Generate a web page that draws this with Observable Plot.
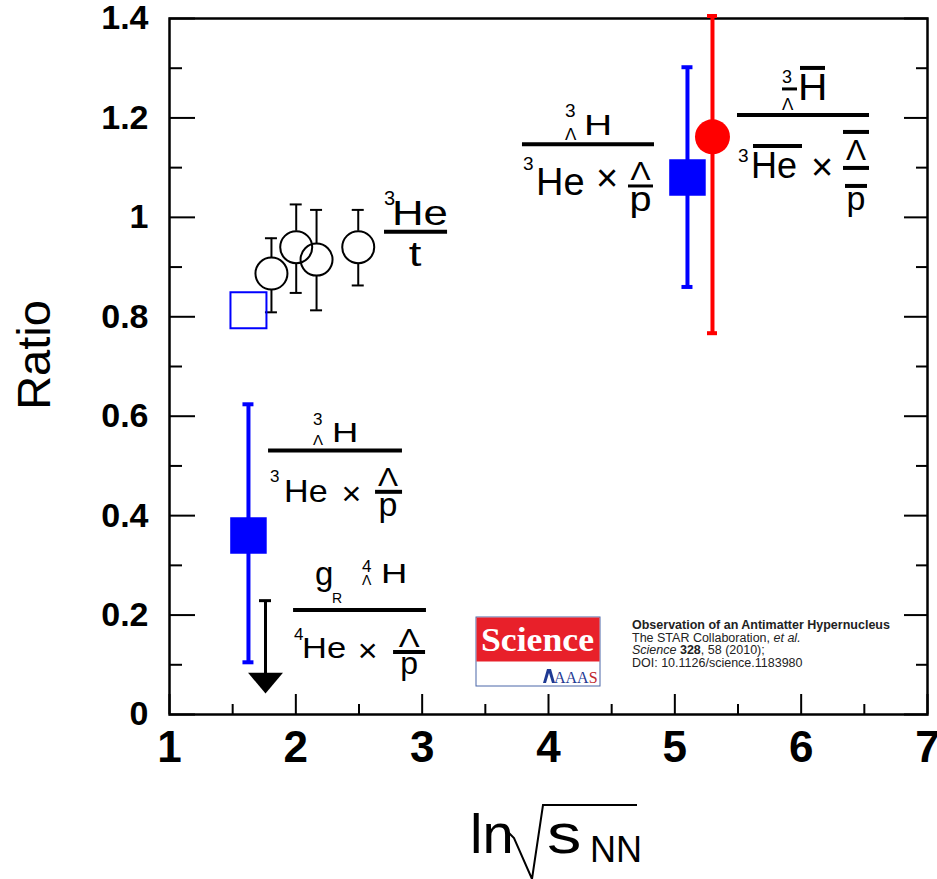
<!DOCTYPE html>
<html>
<head>
<meta charset="utf-8">
<script src="https://cdn.jsdelivr.net/npm/d3@7"></script>
<script src="https://cdn.jsdelivr.net/npm/@observablehq/plot@0.6"></script>
<style>
  body { margin: 0; background: #fff; }
  #chart svg { display: block; }
</style>
</head>
<body>
<div id="chart"></div>
<script>
// ---------- data ----------
const xMajor = [1, 2, 3, 4, 5, 6, 7];
const xMinor = [1.5, 2.5, 3.5, 4.5, 5.5, 6.5];
const yMajor = [0, 0.2, 0.4, 0.6, 0.8, 1.0, 1.2, 1.4];
const yMinor = [0.1, 0.3, 0.5, 0.7, 0.9, 1.1, 1.3];
const yTickLabels = ["0", "0.2", "0.4", "0.6", "0.8", "1", "1.2", "1.4"];

// 3He / t ratio (open black circles)
const he3tX  = [1.807, 2.003, 2.164, 2.494];
const he3tY  = [0.887, 0.940, 0.915, 0.940];
const he3tLo = [0.809, 0.848, 0.813, 0.863];
const he3tHi = [0.958, 1.026, 1.015, 1.015];

// open blue square
const openSqX = [1.625];
const openSqY = [0.813];

// hypertriton ratio (filled blue squares)
const hyperX  = [1.625, 5.100];
const hyperY  = [0.360, 1.080];
const hyperLo = [0.105, 0.860];
const hyperHi = [0.624, 1.302];

// antihypertriton ratio (red circle)
const antiX  = [5.298];
const antiY  = [1.162];
const antiLo = [0.767];
const antiHi = [1.405];

// upper limit (black arrow)
const limX   = [1.760];
const limTop = [0.229];
const limTip = [0.042];

// fraction-label anchors (bar left x, bar right x, bar y) in data units
const labelBarX1 = [2.702, 3.794, 5.496, 1.784, 1.982];
const labelBarX2 = [3.201, 4.839, 6.541, 2.844, 3.034];
const labelBarY  = [0.970, 1.146, 1.205, 0.530, 0.209];

// ---------- tables ----------
const he3t = he3tX.map((x, i) => ({x, y: he3tY[i], lo: he3tLo[i], hi: he3tHi[i]}));
const openSq = openSqX.map((x, i) => ({x, y: openSqY[i]}));
const hyper = hyperX.map((x, i) => ({x, y: hyperY[i], lo: hyperLo[i], hi: hyperHi[i]}));
const anti = antiX.map((x, i) => ({x, y: antiY[i], lo: antiLo[i], hi: antiHi[i]}));
const lim = limX.map((x, i) => ({x, top: limTop[i], tip: limTip[i]}));

const FONT = "'Liberation Sans', Arial, Helvetica, sans-serif";
const BLUE = "#0000ff", RED = "#ff0000";

const arrowHead = {
  draw(ctx, size) {
    const w = Math.sqrt(size);
    const h = w * 0.6;
    ctx.moveTo(-w / 2, -h);
    ctx.lineTo(w / 2, -h);
    ctx.lineTo(0, 0);
    ctx.closePath();
  }
};

const plot = Plot.plot({
  width: 937,
  height: 879,
  marginLeft: 169,
  marginRight: 10,
  marginTop: 18,
  marginBottom: 165,
  x: {domain: [1, 7]},
  y: {domain: [0, 1.4]},
  style: {fontFamily: FONT, background: "#fff", overflow: "visible", color: "black"},
  marks: [
    // axis ticks (inward)
    Plot.axisY({anchor: "left", ticks: yMajor, tickSize: -26, tickFormat: () => "", label: null, strokeWidth: 2}),
    Plot.axisY({anchor: "left", ticks: yMinor, tickSize: -13, tickFormat: () => "", label: null, strokeWidth: 2}),
    Plot.axisY({anchor: "right", ticks: yMajor, tickSize: -24, tickFormat: () => "", label: null, strokeWidth: 2}),
    Plot.axisY({anchor: "right", ticks: yMinor, tickSize: -12, tickFormat: () => "", label: null, strokeWidth: 2}),
    Plot.axisX({anchor: "bottom", ticks: xMajor, tickSize: -20, tickFormat: () => "", label: null, strokeWidth: 2}),
    Plot.axisX({anchor: "bottom", ticks: xMinor, tickSize: -10, tickFormat: () => "", label: null, strokeWidth: 2}),
    // tick labels
    Plot.axisY({anchor: "left", ticks: yMajor, tickSize: 0, tickPadding: 21, label: null,
      tickFormat: (d, i) => yTickLabels[i], fontSize: 34, fontWeight: "bold"}),
    Plot.axisX({anchor: "bottom", ticks: xMajor, tickSize: 0, tickPadding: 16, label: null,
      tickFormat: d => String(d), fontSize: 44, fontWeight: "bold"}),
    Plot.frame({stroke: "black", strokeWidth: 2.5}),

    // 3He/t error bars (outside the circles)
    Plot.ruleX(he3t, {x: "x", y1: "hi", y2: "y", insetBottom: 16, stroke: "black", strokeWidth: 2}),
    Plot.ruleX(he3t, {x: "x", y1: "y", y2: "lo", insetTop: 16, stroke: "black", strokeWidth: 2}),
    Plot.ruleY(he3t, {y: "hi", x1: "x", x2: "x", insetLeft: -6, insetRight: -6, stroke: "black", strokeWidth: 2}),
    Plot.ruleY(he3t, {y: "lo", x1: "x", x2: "x", insetLeft: -6, insetRight: -6, stroke: "black", strokeWidth: 2}),
    Plot.dot(he3t, {x: "x", y: "y", r: 16, stroke: "black", strokeWidth: 2, fill: "none"}),

    // open blue square
    Plot.dot(openSq, {x: "x", y: "y", symbol: "square", r: 20.3, stroke: BLUE, strokeWidth: 2, fill: "none"}),

    // hypertriton
    Plot.ruleX(hyper, {x: "x", y1: "lo", y2: "hi", stroke: BLUE, strokeWidth: 4}),
    Plot.ruleY(hyper, {y: "hi", x1: "x", x2: "x", insetLeft: -5.5, insetRight: -5.5, stroke: BLUE, strokeWidth: 4}),
    Plot.ruleY(hyper, {y: "lo", x1: "x", x2: "x", insetLeft: -5.5, insetRight: -5.5, stroke: BLUE, strokeWidth: 4}),
    Plot.dot(hyper, {x: "x", y: "y", symbol: "square", r: 20.6, fill: BLUE, stroke: "none"}),

    // antihypertriton
    Plot.ruleX(anti, {x: "x", y1: "lo", y2: "hi", stroke: RED, strokeWidth: 4}),
    Plot.ruleY(anti, {y: "hi", x1: "x", x2: "x", insetLeft: -5, insetRight: -5, stroke: RED, strokeWidth: 4}),
    Plot.ruleY(anti, {y: "lo", x1: "x", x2: "x", insetLeft: -5, insetRight: -5, stroke: RED, strokeWidth: 4}),
    Plot.dot(anti, {x: "x", y: "y", r: 17.5, fill: RED, stroke: "none"}),

    // upper limit arrow
    Plot.ruleX(lim, {x: "x", y1: "top", y2: "tip", insetBottom: 18, stroke: "black", strokeWidth: 3}),
    Plot.ruleY(lim, {y: "top", x1: "x", x2: "x", insetLeft: -6, insetRight: -6, stroke: "black", strokeWidth: 3}),
    Plot.dot(lim, {x: "x", y: "tip", symbol: arrowHead, r: 19.7, fill: "black", stroke: "none"})
  ]
});

document.getElementById("chart").appendChild(plot);

// ---------- annotations ----------
const svg = d3.select(plot);
const sx = plot.scale("x"), sy = plot.scale("y");

function T(g, bx, by, [dx, dy, str, size, scx = 1, anchor = "start"]) {
  g.append("text")
    .attr("transform", `translate(${bx + dx},${by + dy}) scale(${scx},1)`)
    .attr("font-size", size)
    .attr("text-anchor", anchor)
    .text(str);
}
function B(g, bx, by, [dx1, dx2, dy, w]) {
  g.append("line")
    .attr("x1", bx + dx1).attr("x2", bx + dx2)
    .attr("y1", by + dy).attr("y2", by + dy)
    .attr("stroke", "black").attr("stroke-width", w);
}

const labelTexts = [
  // 3He / t
  [[0, -26.7, "3", 20], [8, -6.7, "He", 35, 1.25], [31, 34.3, "t", 35, 1.3, "middle"]],
  // hypertriton (RHIC)
  [[43, -27.3, "3", 19], [43, -4.3, "Λ", 17], [62, -9.3, "H", 30, 1.3],
   [1, 25.7, "3", 19], [14, 50.7, "He", 38], [85, 46.7, "×", 38, 1, "middle"],
   [118.5, 35.7, "Λ", 25, 1.2, "middle"], [118.5, 66.7, "p", 36, 1.1, "middle"]],
  // antihypertriton
  [[45, -32, "3", 18], [45, -5, "Λ", 17], [61, -15, "H", 37, 1.1],
   [1, 47, "3", 19], [14, 63, "He", 36], [85, 65, "×", 38, 1, "middle"],
   [119, 45, "Λ", 30, 1, "middle"], [119, 94.7, "p", 34, 1, "middle"]],
  // hypertriton (AGS)
  [[45, -25.7, "3", 17], [45, -5.7, "Λ", 15], [64, -8.7, "H", 27, 1.35],
   [2, 31.3, "3", 17], [16, 51.3, "He", 31, 1.1], [83.5, 54.3, "×", 34, 1, "middle"],
   [120, 35.3, "Λ", 25, 1.2, "middle"], [120, 65, "p", 34, 1, "middle"]],
  // hyper-H4 (AGS)
  [[22, -25, "g", 33], [39, -7, "R", 14], [69, -38, "4", 17], [69, -25, "Λ", 14], [88, -27, "H", 27, 1.35],
   [1, 30, "4", 17], [9, 48, "He", 30, 1.15], [74.5, 52, "×", 34, 1, "middle"],
   [116, 37, "Λ", 26, 1.2, "middle"], [116, 63.6, "p", 32, 1, "middle"]]
];
const labelLines = [
  [],
  [[106, 131, 41.7, 3]],
  [[45, 60, -26, 3], [63, 88, -47, 4], [16, 65, 31, 4], [106, 132, 17, 4], [106, 132, 53, 4], [108, 130, 71, 4]],
  [[107, 134, 41.3, 4]],
  [[100, 132, 42, 4]]
];

const ann = svg.append("g").attr("font-family", FONT).attr("fill", "black").attr("text-anchor", "start");
labelBarX1.forEach((x1, i) => {
  const bx = sx.apply(x1), bx2 = sx.apply(labelBarX2[i]), by = sy.apply(labelBarY[i]);
  B(ann, bx, by, [0, bx2 - bx, 0, 4]);
  labelLines[i].forEach(l => B(ann, bx, by, l));
  labelTexts[i].forEach(t => T(ann, bx, by, t));
});

// ---------- axis titles ----------
svg.append("text")
  .attr("transform", "translate(50,355) rotate(-90)")
  .attr("text-anchor", "middle")
  .attr("font-family", FONT).attr("font-size", 47)
  .text("Ratio");

const xt = svg.append("g").attr("font-family", FONT).attr("fill", "black").attr("text-anchor", "start");
xt.append("text").attr("x", 470).attr("y", 853).attr("font-size", 56).text("ln");
xt.append("path").attr("d", "M508,832 L514,838 L532,879 L543,805 L637,805")
  .attr("fill", "none").attr("stroke", "black").attr("stroke-width", 2);
xt.append("text").attr("transform", "translate(547,853) scale(1.25,1)").attr("font-size", 55).text("s");
xt.append("text").attr("x", 590).attr("y", 862).attr("font-size", 36).text("NN");

// ---------- Science logo & citation ----------
const logo = svg.append("g").attr("text-anchor", "start");
logo.append("rect").attr("x", 476).attr("y", 617).attr("width", 124).attr("height", 69)
  .attr("fill", "#fff").attr("stroke", "#4a66a8").attr("stroke-width", 1);
logo.append("rect").attr("x", 476.5).attr("y", 617.5).attr("width", 123).attr("height", 44)
  .attr("fill", "#e8202a");
logo.append("text").attr("x", 481).attr("y", 651)
  .attr("font-family", "'Liberation Serif', 'Times New Roman', serif").attr("font-weight", "bold")
  .attr("font-size", 34).attr("fill", "#fff").attr("textLength", 113).attr("lengthAdjust", "spacingAndGlyphs").text("Science");
logo.append("path").attr("d", "M543,683 L547,669 L551,669 L555,683 L552,683 L549,673 L546,683 Z").attr("fill", "#1f3a93");
const aaas = logo.append("text").attr("x", 554).attr("y", 683)
  .attr("font-family", "'Liberation Serif', 'Times New Roman', serif").attr("font-size", 16);
aaas.append("tspan").attr("fill", "#1f3a93").text("AAA");
aaas.append("tspan").attr("fill", "#c0272d").text("S");

const cit = svg.append("g").attr("font-family", FONT).attr("font-size", 12.5).attr("fill", "#222").attr("text-anchor", "start");
cit.append("text").attr("x", 632).attr("y", 629).attr("font-weight", "bold").text("Observation of an Antimatter Hypernucleus");
const l2 = cit.append("text").attr("x", 632).attr("y", 642);
l2.append("tspan").text("The STAR Collaboration, ");
l2.append("tspan").attr("font-style", "italic").text("et al.");
const l3 = cit.append("text").attr("x", 632).attr("y", 654);
l3.append("tspan").attr("font-style", "italic").text("Science");
l3.append("tspan").text(" ");
l3.append("tspan").attr("font-weight", "bold").text("328");
l3.append("tspan").text(", 58 (2010);");
cit.append("text").attr("x", 632).attr("y", 667).text("DOI: 10.1126/science.1183980");
</script>
</body>
</html>
